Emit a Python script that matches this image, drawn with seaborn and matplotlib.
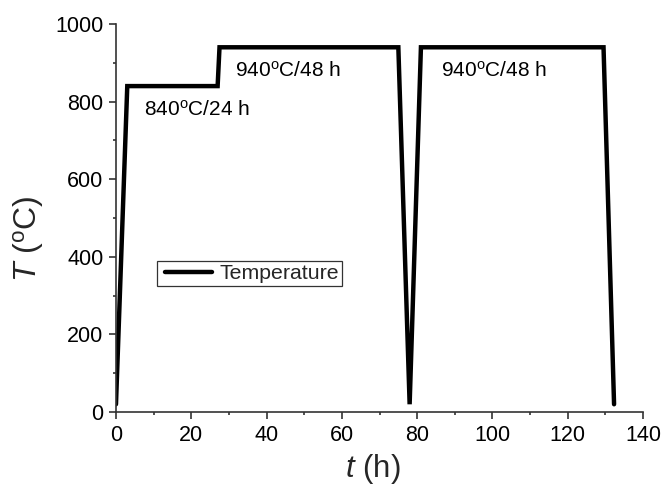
import matplotlib
matplotlib.use("Agg")
import matplotlib.pyplot as plt
from matplotlib.lines import Line2D
from matplotlib.legend_handler import HandlerLine2D
from matplotlib.ticker import MultipleLocator
import pandas as pd
import seaborn as sns

# Heat-treatment schedule: time (h) vs furnace temperature (°C)
time_h = [0, 3, 27, 27.5, 75, 78, 81, 129.5, 132.3]
temp_c = [20, 840, 840, 940, 940, 20, 940, 940, 20]

annotations = ["840$^{\\rm o}$C/24 h", "940$^{\\rm o}$C/48 h", "940$^{\\rm o}$C/48 h"]
annot_x = [7.4, 31.6, 86.3]
annot_y = [778, 879, 879]

sns.set_theme(style="ticks")
plt.rcParams["font.family"] = ["Liberation Sans", "DejaVu Sans"]
plt.rcParams["mathtext.fontset"] = "custom"
plt.rcParams["mathtext.rm"] = "Liberation Sans"
plt.rcParams["mathtext.it"] = "Liberation Sans:italic"

df = pd.DataFrame({"t": time_h, "T": temp_c})

fig = plt.figure(figsize=(6.65, 4.88), dpi=100)
ax = fig.add_axes([0.1744, 0.1557, 0.7926, 0.7951])

sns.lineplot(data=df, x="t", y="T", sort=False, estimator=None, ax=ax,
             color="black", linewidth=3.2, label="Temperature")
for line in ax.get_lines():
    line.set_solid_joinstyle("miter")

for txt, x, y in zip(annotations, annot_x, annot_y):
    ax.text(x, y, txt, fontsize=15, va="center", ha="left", color="black")

ax.set_xlim(0, 140)
ax.set_ylim(0, 1000)
ax.xaxis.set_major_locator(MultipleLocator(20))
ax.xaxis.set_minor_locator(MultipleLocator(10))
ax.yaxis.set_major_locator(MultipleLocator(200))
ax.yaxis.set_minor_locator(MultipleLocator(100))

for side in ("top", "right"):
    ax.spines[side].set_visible(False)
for side in ("left", "bottom"):
    ax.spines[side].set_color("#333333")
    ax.spines[side].set_linewidth(1.2)

ax.tick_params(which="major", direction="out", length=5, width=1.2,
               color="#333333", labelsize=15.5, labelcolor="black", pad=4)
ax.tick_params(which="minor", direction="out", length=2.5, width=1.2,
               color="#333333")

ax.set_xlabel("$\\it{t}$ (h)", fontsize=22.5, labelpad=5)
ax.set_ylabel("$\\it{T}$ ($^{\\rm o}$C)", fontsize=23, labelpad=7)
ax.xaxis.label.set_x(0.488)
ax.yaxis.label.set_y(0.446)

leg = ax.legend(loc="upper left", bbox_to_anchor=(0.0778, 0.389),
                fontsize=15.3, frameon=True, fancybox=False, handlelength=2.45,
                handletextpad=0.35, borderpad=0.14, borderaxespad=0,
                handler_map={Line2D: HandlerLine2D(xpad=0.25)})
leg.get_frame().set_edgecolor("black")
leg.get_frame().set_linewidth(0.9)

fig.savefig("out.png", dpi=100)
